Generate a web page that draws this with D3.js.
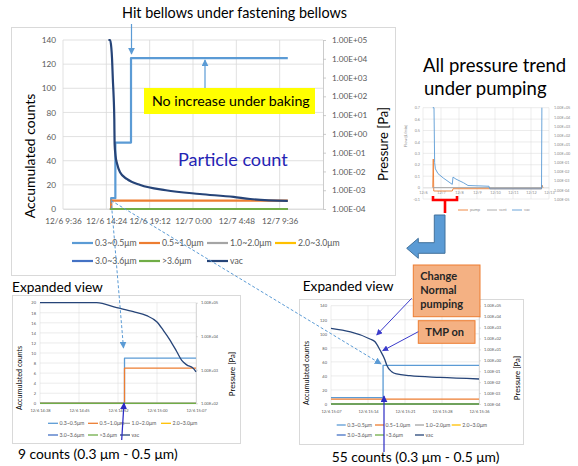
<!DOCTYPE html>
<html>
<head>
<meta charset="utf-8">
<script src="https://cdn.jsdelivr.net/npm/d3@7"></script>
<style>
  body { margin: 0; background: #fff; }
  svg { display: block; }
</style>
</head>
<body>
<script>
// ---------- data ----------
var binNames = ["0.3~0.5μm", "0.5~1.0μm", "1.0~2.0μm", "2.0~3.0μm", "3.0~3.6μm", ">3.6μm", "vac"];
var binColors = ["#5B9BD5", "#ED7D31", "#A5A5A5", "#FFC000", "#4472C4", "#70AD47", "#264478"];
var pressureTicks = [1e-4, 1e-3, 1e-2, 1e-1, 1e0, 1e1, 1e2, 1e3, 1e4, 1e5];

// main chart: whole bake-out run
var mainTicks = ["12/6 9:36", "12/6 14:24", "12/6 19:12", "12/7 0:00", "12/7 4:48", "12/7 9:36"];
var mainEnd = "12/7 14:24";
var mainCountTicks = [0, 20, 40, 60, 80, 100, 120, 140];
var main03 = [["12/6 14:48", 0], ["12/6 14:56", 9], ["12/6 15:24", 55], ["12/6 17:08", 125], ["12/7 10:30", 125]];
var main05 = [["12/6 14:48", 0], ["12/6 14:56", 7], ["12/7 10:30", 7]];
var mainZero = [["12/6 14:48", 0], ["12/7 10:30", 0]];
var mainVac = [["12/6 14:38", 1e5], ["12/6 14:49", 1e5], ["12/6 14:57", 4e4], ["12/6 15:02", 1e4],
  ["12/6 15:07", 900], ["12/6 15:13", 80], ["12/6 15:17", 6], ["12/6 15:19", 0.3], ["12/6 15:25", 0.07],
  ["12/6 15:36", 0.025], ["12/6 15:55", 0.009], ["12/6 16:40", 0.004], ["12/6 18:10", 0.0019],
  ["12/6 21:00", 0.001], ["12/7 0:45", 6.3e-4], ["12/7 4:30", 4.4e-4], ["12/7 6:20", 3.4e-4], ["12/7 10:30", 2.7e-4]];

// small chart: all pressure trend
var smallTicks = ["12/6 0:00", "12/7 0:00", "12/8 0:00", "12/9 0:00", "12/10 0:00", "12/11 0:00", "12/12 0:00", "12/13 0:00"];
var flowTicks = [-0.1, 0, 0.1, 0.2, 0.3, 0.4, 0.5, 0.6, 0.7];
var smallPressureTicks = [1e-5, 1e-4, 1e-3, 1e-2, 1e-1, 1e0, 1e1, 1e2, 1e3, 1e4, 1e5];
var smallPump = [["12/6 13:00", 0], ["12/6 13:40", 0.25], ["12/6 14:20", -0.03], ["12/7 15:00", -0.03],
  ["12/7 16:00", -0.01], ["12/12 14:00", -0.01], ["12/12 14:40", 0.02], ["12/12 16:00", 0]];
var smallVent = [["12/6 13:00", 0], ["12/12 14:00", 0], ["12/12 14:30", 0.02], ["12/12 15:30", 0]];
var smallVac = [["12/6 13:00", 1e5], ["12/6 14:40", 1e5], ["12/6 15:30", 0.1], ["12/6 16:30", 0.02],
  ["12/6 20:00", 0.006], ["12/7 3:00", 0.002], ["12/7 12:00", 6e-4], ["12/7 15:00", 4e-4],
  ["12/7 16:00", 2.5e-3], ["12/7 20:00", 1.5e-3], ["12/8 6:00", 6e-4], ["12/8 12:00", 3e-4],
  ["12/9 16:00", 2.5e-4], ["12/9 17:00", 1.3e-4], ["12/12 14:00", 1.3e-4], ["12/12 14:30", 1e5]];

// expanded view 1
var exp1Ticks = ["12/6 14:38:24", "12/6 14:45:36", "12/6 14:52:48", "12/6 15:00:00", "12/6 15:07:12"];
var exp1CountTicks = [0, 2, 4, 6, 8, 10, 12, 14, 16, 18, 20];
var exp1PressureTicks = [1e2, 1e3, 1e4, 1e5];
var exp1_03 = [["12/6 14:38:24", 0], ["12/6 14:54:00", 9], ["12/6 15:07:12", 9]];
var exp1_05 = [["12/6 14:38:24", 0], ["12/6 14:54:00", 7], ["12/6 15:07:12", 7]];
var exp1Zero = [["12/6 14:38:24", 0], ["12/6 15:07:12", 0]];
var exp1Vac = [["12/6 14:38:24", 1e5], ["12/6 14:48:52", 1e5], ["12/6 14:52:34", 7.1e4], ["12/6 14:55:38", 5.4e4],
  ["12/6 14:58:06", 4.1e4], ["12/6 14:59:57", 2.7e4], ["12/6 15:01:10", 1.5e4], ["12/6 15:02:24", 7.7e3],
  ["12/6 15:03:38", 3.5e3], ["12/6 15:04:34", 1.9e3], ["12/6 15:05:29", 1.4e3], ["12/6 15:06:42", 1.1e3],
  ["12/6 15:07:12", 870]];

// expanded view 2
var exp2Ticks = ["12/6 15:07:12", "12/6 15:14:24", "12/6 15:21:36", "12/6 15:28:48", "12/6 15:36:00"];
var exp2CountTicks = [0, 20, 40, 60, 80, 100, 120, 140];
var exp2_03 = [["12/6 15:07:12", 9], ["12/6 15:17:20", 55], ["12/6 15:36:00", 55]];
var exp2_05 = [["12/6 15:07:12", 7], ["12/6 15:36:00", 7]];
var exp2Zero = [["12/6 15:07:12", 0], ["12/6 15:36:00", 0]];
var exp2Vac = [["12/6 15:07:12", 850], ["12/6 15:14:47", 90], ["12/6 15:15:46", 50], ["12/6 15:16:44", 8.7],
  ["12/6 15:17:42", 1.07], ["12/6 15:18:02", 0.37], ["12/6 15:19:01", 0.09], ["12/6 15:19:59", 0.056],
  ["12/6 15:22:34", 0.039], ["12/6 15:28:24", 0.027], ["12/6 15:36:00", 0.0195]];

// ---------- helpers ----------
var FONT = "Lato, 'Open Sans', sans-serif";
var W = 578, H = 466;
var parseS = d3.timeParse("%m/%d %H:%M:%S"), parseM = d3.timeParse("%m/%d %H:%M");
function tp(s) { return s.split(":").length > 2 ? parseS(s) : parseM(s); }
var fmtT = d3.timeFormat("%-m/%-d %-H:%M");
function fmtE(d) {
  var e = Math.round(Math.log10(d));
  return "1.00E" + (e < 0 ? "-" : "+") + String(Math.abs(e)).padStart(2, "0");
}

var svg = d3.select("body").append("svg").attr("width", W).attr("height", H)
  .style("font-family", FONT);
svg.append("rect").attr("width", W).attr("height", H).attr("fill", "#fff");

var defs = svg.append("defs");
function marker(id, color, size) {
  defs.append("marker").attr("id", id).attr("viewBox", "0 0 10 10")
    .attr("refX", 9).attr("refY", 5).attr("markerUnits", "userSpaceOnUse")
    .attr("markerWidth", size).attr("markerHeight", size).attr("orient", "auto")
    .append("path").attr("d", "M0,0L10,5L0,10z").attr("fill", color);
}
marker("ahLight", "#5B9BD5", 7);
marker("ahDark", "#2B2BC4", 7);
marker("ahCall", "#3B3BCB", 6);

function text(g, x, y, str, size, opt) {
  opt = opt || {};
  var t = g.append("text").attr("x", x).attr("y", y).attr("font-size", size)
    .attr("fill", opt.fill || "#000").text(str);
  if (opt.weight) t.attr("font-weight", opt.weight);
  if (opt.anchor) t.attr("text-anchor", opt.anchor);
  if (opt.rotate) t.attr("transform", "rotate(-90," + x + "," + y + ")");
  return t;
}

// one Excel-like combo chart: counts on the left, log pressure on the right
function panel(o) {
  var g = svg.append("g");
  if (o.frame) {
    g.append("rect").attr("x", o.frame[0] + 0.5).attr("y", o.frame[1] + 0.5)
      .attr("width", o.frame[2]).attr("height", o.frame[3])
      .attr("fill", "#fff").attr("stroke", "#D9D9D9");
  }
  var x = d3.scaleTime().domain([tp(o.xStart), tp(o.xEnd)]).range([o.left, o.right]);
  var y = d3.scaleLinear().domain([o.yTicks[0], o.yTicks[o.yTicks.length - 1]]).range([o.bottom, o.top]);
  var yP = d3.scaleLog().domain([o.pTicks[0], o.pTicks[o.pTicks.length - 1]]).range([o.bottom, o.top]);

  g.append("g").selectAll("line").data(o.yTicks).join("line")
    .attr("x1", o.left).attr("x2", o.right).attr("y1", y).attr("y2", y)
    .attr("stroke", "#D9D9D9").attr("stroke-width", o.gw);
  g.append("g").selectAll("line").data(o.xTicks.map(tp)).join("line")
    .attr("x1", x).attr("x2", x).attr("y1", o.top).attr("y2", o.bottom)
    .attr("stroke", "#D9D9D9").attr("stroke-width", o.gw);

  var axL = g.append("g").attr("transform", "translate(" + o.left + ",0)")
    .call(d3.axisLeft(y).tickValues(o.yTicks).tickSize(0).tickPadding(o.padL).tickFormat(String));
  axL.select(".domain").remove();
  axL.attr("font-family", FONT).attr("font-size", o.fs).attr("color", "#595959");

  var axR = g.append("g").attr("transform", "translate(" + o.right + ",0)")
    .call(d3.axisRight(yP).tickValues(o.pTicks).tickSize(o.tickR).tickSizeOuter(0)
      .tickPadding(o.padR).tickFormat(fmtE));
  axR.attr("font-family", FONT).attr("font-size", o.fs).attr("color", "#595959");
  axR.selectAll("line,path").attr("stroke", "#BFBFBF").attr("stroke-width", o.gw);
  axR.selectAll("text").attr("text-anchor", "start");

  var axB = g.append("g").attr("transform", "translate(0," + y(o.xAxisAt || 0) + ")")
    .call(d3.axisBottom(x).tickValues(o.xTicks.map(tp)).tickSize(0).tickSizeOuter(0)
      .tickPadding(o.padB).tickFormat(o.xFmt || fmtT));
  axB.attr("font-family", FONT).attr("font-size", o.fs).attr("color", "#595959");
  axB.select(".domain").attr("stroke", "#D9D9D9").attr("stroke-width", o.gw);

  o.series.forEach(function (s) {
    var line = d3.line()
      .x(function (d) { return x(tp(d[0])); })
      .y(function (d) { return s.log ? yP(d[1]) : y(d[1]); })
      .curve(s.log ? d3.curveMonotoneX : (s.curve || d3.curveStepAfter));
    g.append("path").datum(s.data).attr("d", line).attr("fill", "none")
      .attr("stroke", s.color).attr("stroke-width", o.lw).attr("stroke-linejoin", "round");
  });

  if (o.legend) {
    var L = o.legend;
    L.items.forEach(function (it, i) {
      var r = i < L.perRow ? 0 : 1, c = i < L.perRow ? i : i - L.perRow;
      var lx = L.cols[c], ly = L.rows[r];
      g.append("line").attr("x1", lx).attr("x2", lx + L.len).attr("y1", ly).attr("y2", ly)
        .attr("stroke", it.color).attr("stroke-width", o.lw);
      text(g, lx + L.len + L.gap, ly, it.name, L.fs, { fill: "#595959" }).attr("dy", "0.35em");
    });
  }
  if (o.yTitle) text(g, o.yTitle[0], o.yTitle[1], o.yTitle[2], o.yTitle[3], { rotate: true, anchor: "middle" });
  if (o.pTitle) text(g, o.pTitle[0], o.pTitle[1], o.pTitle[2], o.pTitle[3], { rotate: true, anchor: "middle" });
  return { g: g, x: x, y: y, yP: yP };
}

function binSeries(s03, s05, zero, vac) {
  return [s03, s05, zero, zero, zero, zero, vac].map(function (d, i) {
    return { data: d, color: binColors[i], log: i === 6 };
  });
}
var legendItems = binNames.map(function (n, i) { return { name: n, color: binColors[i] }; });

// ---------- main chart ----------
var main = panel({
  frame: [11, 27, 384, 248],
  left: 63, right: 323, top: 40, bottom: 209,
  xStart: mainTicks[0], xEnd: mainEnd, xTicks: mainTicks,
  yTicks: mainCountTicks, pTicks: pressureTicks,
  fs: 8.2, padL: 7, padR: 6, padB: 9, tickR: 3, gw: 0.8, lw: 2.2,
  series: binSeries(main03, main05, mainZero, mainVac),
  legend: { items: legendItems, perRow: 4, rows: [243, 261], cols: [72, 139, 207, 275], len: 21, gap: 2, fs: 8.7 },
  yTitle: [35, 156, "Accumulated counts", 14],
  pTitle: [388, 144, "Pressure [Pa]", 13]
});

text(svg, 122, 18, "Hit bellows under fastening bellows", 14.4);
svg.append("line").attr("x1", 131.5).attr("y1", 24).attr("x2", 131.5).attr("y2", 54)
  .attr("stroke", "#5B9BD5").attr("stroke-width", 1.2).attr("marker-end", "url(#ahLight)");
svg.append("rect").attr("x", 144).attr("y", 88).attr("width", 171).attr("height", 26).attr("fill", "#FFFF00");
text(svg, 152, 106, "No increase under baking", 14.2);
svg.append("line").attr("x1", 205).attr("y1", 88).attr("x2", 205).attr("y2", 60)
  .attr("stroke", "#5B9BD5").attr("stroke-width", 1.2).attr("marker-end", "url(#ahLight)");
text(svg, 178, 166, "Particle count", 18.1, { fill: "#2424B4" });

// ---------- small chart: all pressure trend ----------
text(svg, 423, 72, "All pressure trend", 18.5);
text(svg, 424, 95, "under pumping", 18.5);
var small = (function () {
  var o = { left: 423, right: 549, top: 107.7, bottom: 199 };
  var g = svg.append("g");
  var x = d3.scaleTime().domain([tp(smallTicks[0]), tp(smallTicks[smallTicks.length - 1])]).range([o.left, o.right]);
  var y = d3.scaleLinear().domain([-0.1, 0.7]).range([o.bottom, o.top]);
  var yP = d3.scaleLog().domain([1e-5, 1e5]).range([o.bottom, o.top]);
  g.append("g").selectAll("line").data(flowTicks).join("line")
    .attr("x1", o.left).attr("x2", o.right).attr("y1", y).attr("y2", y)
    .attr("stroke", "#D9D9D9").attr("stroke-width", 0.5);
  g.append("g").selectAll("line").data(smallTicks.map(tp)).join("line")
    .attr("x1", x).attr("x2", x).attr("y1", o.top).attr("y2", o.bottom)
    .attr("stroke", "#D9D9D9").attr("stroke-width", 0.5);
  var aL = g.append("g").attr("transform", "translate(" + o.left + ",0)")
    .call(d3.axisLeft(y).tickValues(flowTicks).tickSize(0).tickPadding(3).tickFormat(String));
  aL.select(".domain").remove();
  var aR = g.append("g").attr("transform", "translate(" + (o.right + 2) + ",0)")
    .call(d3.axisRight(yP).tickValues(smallPressureTicks).tickSize(0).tickPadding(3).tickFormat(fmtE));
  aR.select(".domain").remove();
  var aB = g.append("g").attr("transform", "translate(0," + y(0) + ")")
    .call(d3.axisBottom(x).tickValues(smallTicks.map(tp)).tickSize(0).tickPadding(4).tickFormat(d3.timeFormat("%-m/%-d")));
  aB.select(".domain").attr("stroke", "#D9D9D9").attr("stroke-width", 0.5);
  [aL, aR, aB].forEach(function (a) { a.attr("font-family", FONT).attr("font-size", 3.8).attr("color", "#8C8C8C"); });
  text(g, 407, 136, "Flow [L/min]", 4, { rotate: true, anchor: "middle", fill: "#8C8C8C" });
  var ser = [
    { name: "pump", data: smallPump, color: "#ED7D31", log: false },
    { name: "vent", data: smallVent, color: "#A5A5A5", log: false },
    { name: "vac", data: smallVac, color: "#5B9BD5", log: true }
  ];
  ser.forEach(function (s, i) {
    var line = d3.line().x(function (d) { return x(tp(d[0])); })
      .y(function (d) { return s.log ? yP(d[1]) : y(d[1]); });
    g.append("path").datum(s.data).attr("d", line).attr("fill", "none")
      .attr("stroke", s.color).attr("stroke-width", 0.9);
    var lx = [458, 487, 512][i];
    g.append("line").attr("x1", lx).attr("x2", lx + 10).attr("y1", 210).attr("y2", 210)
      .attr("stroke", s.color).attr("stroke-width", 0.9);
    text(g, lx + 12, 210, s.name, 4, { fill: "#8C8C8C" }).attr("dy", "0.35em");
  });
  return g;
})();

// red bracket + bent block arrow
svg.append("path").attr("d", "M433,196V200H457V196M445,200V213")
  .attr("fill", "none").attr("stroke", "#FF0000").attr("stroke-width", 2.6);
svg.append("path")
  .attr("d", "M434.3,215H445V253.3H418.3V258.3L406.7,248.3L418.3,238.3V242.7H434.3Z")
  .attr("fill", "#5B9BD5").attr("stroke", "#41719C").attr("stroke-width", 1);

// ---------- expanded view 1 ----------
text(svg, 12, 291.5, "Expanded view", 13.7);
var e1 = panel({
  frame: [12, 295, 228, 148],
  left: 40, right: 196, top: 302.7, bottom: 403.3,
  xStart: exp1Ticks[0], xEnd: exp1Ticks[exp1Ticks.length - 1], xTicks: exp1Ticks,
  yTicks: exp1CountTicks, pTicks: exp1PressureTicks,
  fs: 4, padL: 4, padR: 3, padB: 6, tickR: 2, gw: 0.5, lw: 1.3,
  series: binSeries(exp1_03, exp1_05, exp1Zero, exp1Vac),
  legend: { items: legendItems, perRow: 4, rows: [423.3, 435], cols: [48, 88, 120, 161], len: 10, gap: 1.5, fs: 5.2 },
  yTitle: [21.5, 378, "Accumulated counts", 7.2],
  pTitle: [234.5, 374, "Pressure [Pa]", 7.8]
});
text(svg, 18, 458.5, "9 counts (0.3 μm - 0.5 μm)", 13.8);
svg.append("line").attr("x1", 121.7).attr("y1", 440).attr("x2", 124).attr("y2", 403)
  .attr("stroke", "#2B2BC4").attr("stroke-width", 1.2).attr("marker-end", "url(#ahDark)");

// ---------- expanded view 2 ----------
text(svg, 302.7, 291, "Expanded view", 13.7);
var e2 = panel({
  frame: [299, 299, 224, 145],
  left: 331, right: 479, top: 305.7, bottom: 404,
  xStart: exp2Ticks[0], xEnd: exp2Ticks[exp2Ticks.length - 1], xTicks: exp2Ticks,
  yTicks: exp2CountTicks, pTicks: pressureTicks,
  fs: 4, padL: 4, padR: 3, padB: 6, tickR: 2, gw: 0.5, lw: 1.3,
  series: binSeries(exp2_03, exp2_05, exp2Zero, exp2Vac),
  legend: { items: legendItems, perRow: 4, rows: [425, 435], cols: [336.7, 375, 415, 451.7], len: 9, gap: 1.5, fs: 5.2 },
  yTitle: [309, 373, "Accumulated counts", 7.2],
  pTitle: [520, 378, "Pressure [Pa]", 7.8]
});
text(svg, 331.7, 462, "55 counts (0.3 μm - 0.5 μm)", 13.8);
svg.append("line").attr("x1", 384).attr("y1", 452).attr("x2", 384).attr("y2", 396)
  .attr("stroke", "#2B2BC4").attr("stroke-width", 1.2).attr("marker-end", "url(#ahDark)");

// callouts
function callout(bx, by, bw, bh, lines, lineH, from, to) {
  svg.append("rect").attr("x", bx).attr("y", by).attr("width", bw).attr("height", bh)
    .attr("fill", "#F4B183").attr("stroke", "#ED7D31").attr("stroke-width", 1);
  lines.forEach(function (l, i) { text(svg, bx + 7, by + 15 + i * lineH, l, 11, { weight: "bold", fill: "#262626" }); });
  svg.append("line").attr("x1", from[0]).attr("y1", from[1]).attr("x2", to[0]).attr("y2", to[1])
    .attr("stroke", "#3B3BCB").attr("stroke-width", 1).attr("marker-end", "url(#ahCall)");
}
callout(413.3, 265, 66.7, 51.7, ["Change", "Normal", "pumping"], 14, [411.7, 298.3], [376.7, 335]);
callout(418.3, 320.7, 56.7, 22.6, ["TMP on"], 14, [418.3, 331.7], [382.7, 350.7]);

// dashed connectors from the main chart to the expanded views
var origin = [main.x(tp(main03[1][0])), main.y(main05[1][1])];
var targets = [[e1.x(tp(exp1_03[1][0])) - 1, 348], [e2.x(tp(exp2_03[1][0])) - 2, 364]];
targets.forEach(function (t) {
  svg.append("line").attr("x1", origin[0]).attr("y1", origin[1]).attr("x2", t[0]).attr("y2", t[1])
    .attr("stroke", "#5B9BD5").attr("stroke-width", 1).attr("stroke-dasharray", "3,2")
    .attr("marker-end", "url(#ahLight)");
});
</script>
</body>
</html>
